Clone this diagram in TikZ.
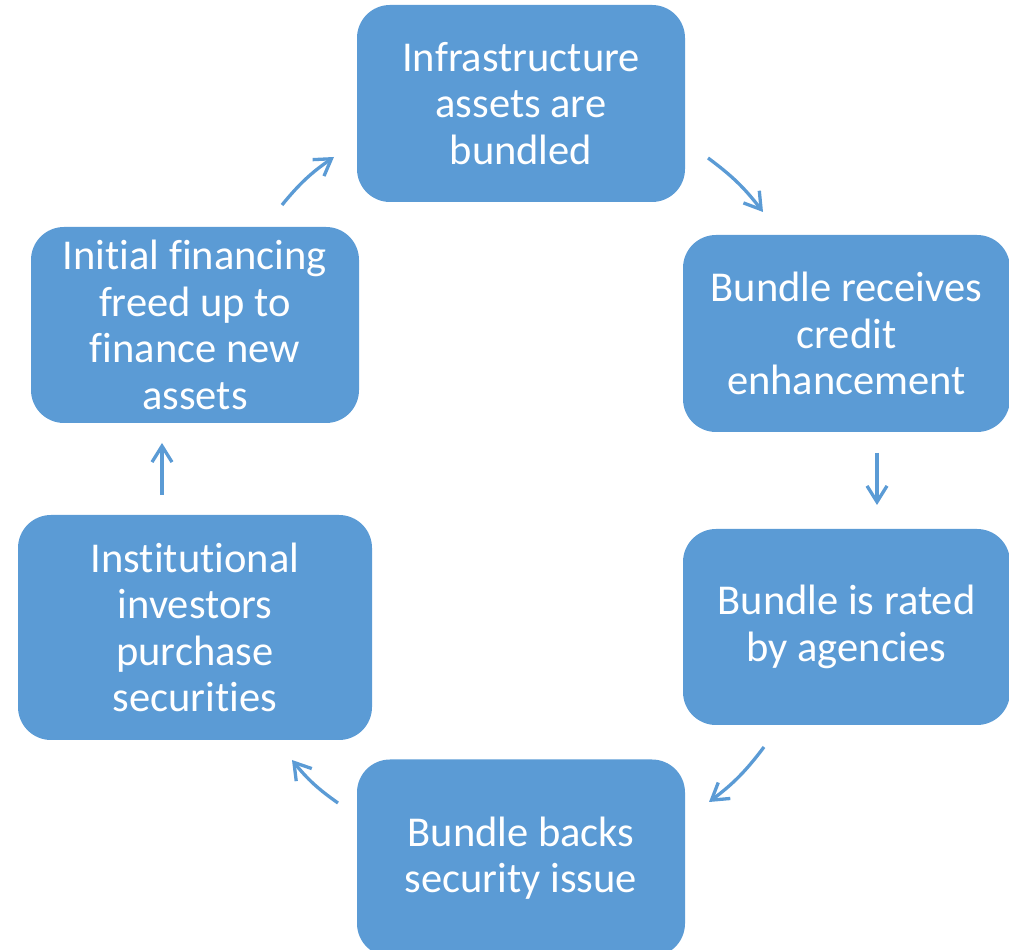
\documentclass[tikz,border=0pt]{standalone}
\usepackage{fontspec}
\setmainfont{Carlito}[Ligatures=CommonOff]
\usepackage{tikz}
\usetikzlibrary{arrows.meta}
\definecolor{boxblue}{RGB}{91,155,213}
\tikzset{phase/.style = {rectangle, rounded corners=33pt, fill=boxblue, text=white, align=center, inner sep=0pt, minimum width=328pt, minimum height=197pt, font=\fontsize{42.5}{46.5}\selectfont}}
\tikzset{flow/.style = {draw=boxblue, line width=3.3pt}}

\begin{document}
\begin{tikzpicture}[x=1pt, y=1pt, >={Straight Barb[length=16pt, width=20pt]}]
  \useasboundingbox (0,0) rectangle (1009,950);
  \node [phase] (infra) at (521,846.5) {Infrastructure\\assets are\\bundled};
  \node [phase, minimum width=327pt] (credit) at (846.5,616.5) {Bundle receives\\credit\\enhancement};
  \node [phase, minimum width=327pt, minimum height=196pt] (rated) at (846.5,323) {Bundle is rated\\by agencies};
  \node [phase] (backs) at (521,92) {Bundle backs\\security issue};
  \node [phase, minimum width=354pt, minimum height=225pt] (invest) at (195,322.5) {Institutional\\investors\\purchase\\securities};
  \node [phase, minimum height=196pt] (freed) at (195,625) {Initial financing\\freed up to\\finance new\\assets};

  \coordinate (c1) at (708,792);  \coordinate (c2) at (763,738);
  \coordinate (c3) at (877,497);  \coordinate (c4) at (877,445);
  \coordinate (c5) at (764,203);  \coordinate (c6) at (709,148);
  \coordinate (c7) at (338,147);  \coordinate (c8) at (292,190);
  \coordinate (c9) at (162,455);  \coordinate (c10) at (162,507);
  \coordinate (c11) at (282,745); \coordinate (c12) at (334,793);

  \path[->] (c1) edge [flow, bend left=8] (c2);
  \path[->] (c3) edge [flow] (c4);
  \path[->] (c5) edge [flow, bend left=8] (c6);
  \path[->] (c7) edge [flow, bend left=8] (c8);
  \path[->] (c9) edge [flow] (c10);
  \path[->] (c11) edge [flow, bend left=8] (c12);
\end{tikzpicture}
\end{document}
